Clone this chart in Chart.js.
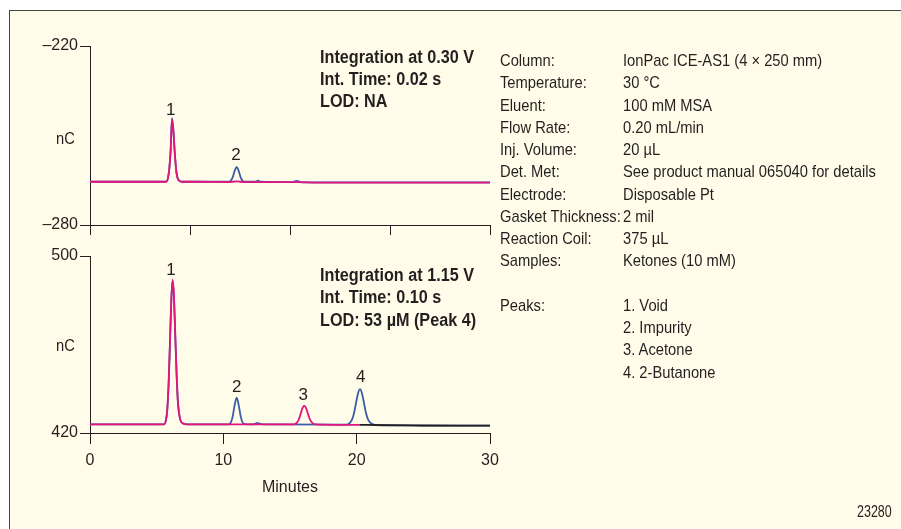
<!DOCTYPE html>
<html><head><meta charset="utf-8">
<script src="https://cdn.jsdelivr.net/npm/chart.js@4.4.1/dist/chart.umd.min.js"></script>
<style>
html,body{margin:0;padding:0;background:#fff;width:901px;height:529px;overflow:hidden;}
#frame{position:absolute;left:9px;top:10px;width:900px;height:530px;border-left:1px solid #444;border-top:1px solid #444;background:#FFFDE9;}
canvas{position:absolute;left:0;top:0;}
.t{position:absolute;font-family:"Liberation Sans",Arial,sans-serif;color:#231F20;white-space:nowrap;font-size:17px;line-height:20px;transform-origin:0 50%;transform:translateY(-50%) scaleX(0.866);}
.b{font-weight:bold;font-size:17.5px;transform:translateY(-50%) scaleX(0.926);}
</style></head>
<body>
<div id="frame"></div>
<canvas id="c1" width="901" height="529"></canvas>
<canvas id="c2" width="901" height="529"></canvas>
<div id="txt"></div>
<script>
// ---------- data (minutes, nC) ----------
// Top chromatogram (Integration at 0.30 V)
const topMagT = [0, 3, 5.6, 5.75, 5.85, 5.95, 6.05, 6.15, 6.25, 6.35, 6.45, 6.55, 6.7, 6.9, 8, 10.4, 11.0, 11.6, 13, 15.5, 17, 22, 30];
const topMagY = [-265.5, -265.5, -265.5, -265.4, -264.2, -261.1, -255.0, -244.6, -248.2, -255.3, -261.0, -264.0, -265.2, -265.5, -265.5, -265.6, -265.4, -265.6, -265.6, -265.6, -265.8, -265.8, -265.8];
const topBlueT = [0, 5.6, 5.75, 5.85, 5.95, 6.05, 6.15, 6.25, 6.35, 6.45, 6.55, 6.7, 6.9, 10.4, 10.55, 10.7, 10.85, 11.0, 11.15, 11.3, 11.45, 11.6, 12.0, 12.4, 12.6, 12.8, 15.2, 15.5, 15.8, 17, 30];
const topBlueY = [-265.5, -265.5, -265.4, -264.2, -261.0, -254.8, -244.2, -248.0, -255.2, -261.0, -264.0, -265.2, -265.5, -265.5, -265.2, -264.05, -261.85, -260.5, -261.85, -264.05, -265.2, -265.5, -265.5, -265.5, -265.1, -265.5, -265.6, -265.2, -265.6, -265.7, -265.7];
const topPeakNames = ['1', '2'];
const topPeakX = [6.05, 10.95];
const topPeakY = [-241.5, -256.6];

// Bottom chromatogram (Integration at 1.15 V)
const botMagT = [0, 3, 5.55, 5.7, 5.8, 5.9, 6.0, 6.1, 6.2, 6.3, 6.4, 6.5, 6.6, 6.75, 6.95, 7.3, 10, 12, 15.3, 15.47, 15.62, 15.77, 15.92, 16.07, 16.22, 16.37, 16.52, 16.67, 16.9, 19, 20.25];
const botMagY = [423.9, 423.9, 423.9, 425.9, 431.1, 442.9, 461.5, 480.8, 489.3, 481.5, 463.5, 446.0, 433.5, 426.5, 424.4, 423.9, 423.9, 423.9, 423.9, 424.4, 425.6, 428.1, 431.0, 432.4, 431.0, 428.2, 425.8, 424.6, 423.9, 423.7, 423.7];
const botBlueT = [0, 5.55, 5.7, 5.8, 5.9, 6.0, 6.1, 6.2, 6.3, 6.4, 6.5, 6.6, 6.75, 6.95, 7.3, 10.4, 10.55, 10.7, 10.85, 11.0, 11.15, 11.3, 11.45, 11.6, 12.2, 12.4, 12.55, 12.7, 13.0, 19.2, 19.45, 19.65, 19.8, 19.95, 20.1, 20.25, 20.4, 20.55, 20.7, 20.85, 21.05, 21.4, 30];
const botBlueY = [423.9, 423.9, 425.8, 430.8, 442.5, 461.0, 480.3, 488.8, 481.0, 463.0, 445.6, 433.3, 426.4, 424.4, 423.9, 423.9, 424.6, 427.4, 432.7, 436.0, 432.7, 427.5, 424.7, 424.0, 423.9, 424.2, 424.6, 424.2, 423.9, 423.8, 424.3, 426.0, 428.9, 433.5, 437.9, 439.8, 437.9, 433.6, 429.0, 426.2, 424.5, 423.7, 423.3];
const botBlackT = [20.25, 22, 25, 30];
const botBlackY = [423.7, 423.5, 423.4, 423.3];
const botPeakNames = ['1', '2', '3', '4'];
const botPeakX = [6.08, 11.0, 16.0, 20.3];
const botPeakY = [493.5, 440.7, 437.0, 445.2];

// axis ticks
const topYTicks = [-280, -220];
const botYTicks = [420, 500];
const botXTicks = [0, 10, 20, 30];
const topXStep = 7.5;

// annotations and conditions
const topNotes = ['Integration at 0.30 V', 'Int. Time: 0.02 s', 'LOD: NA'];
const botNotes = ['Integration at 1.15 V', 'Int. Time: 0.10 s', 'LOD: 53 µM (Peak 4)'];
const condLabels = ['Column:', 'Temperature:', 'Eluent:', 'Flow Rate:', 'Inj. Volume:', 'Det. Met:', 'Electrode:', 'Gasket Thickness:', 'Reaction Coil:', 'Samples:', '', 'Peaks:', '', '', ''];
const condValues = ['IonPac ICE-AS1 (4 × 250 mm)', '30 °C', '100 mM MSA', '0.20 mL/min', '20 µL', 'See product manual 065040 for details', 'Disposable Pt', '2 mil', '375 µL', 'Ketones (10 mM)', '', '1. Void', '2. Impurity', '3. Acetone', '4. 2-Butanone'];
const figureId = '23280';

// ---------- styling ----------
const INK = '#231F20';
const BLUE = '#3B5BA9';
const MAG = '#E3157D';
const FONT = '"Liberation Sans",Arial,sans-serif';
Chart.defaults.font.family = FONT;
Chart.defaults.font.size = 16;
Chart.defaults.color = INK;

function pts(t, y) { return t.map((v, i) => ({x: v, y: y[i]})); }
const minusFmt = v => (v < 0 ? '\u2013' + Math.abs(v) : String(v));

const peakLabelPlugin = {
  id: 'peakLabels',
  afterDatasetsDraw(chart, args, opts) {
    const {ctx} = chart; const xs = chart.scales.x, ys = chart.scales.y;
    ctx.save();
    ctx.font = '17px ' + FONT;
    ctx.fillStyle = INK; ctx.textAlign = 'center'; ctx.textBaseline = 'middle';
    opts.names.forEach((n, i) => ctx.fillText(n, xs.getPixelForValue(opts.xs[i]), ys.getPixelForValue(opts.ys[i])));
    ctx.restore();
  }
};

function ds(data, color, order) {
  return {data, borderColor: color, backgroundColor: color, order, borderWidth: 1.8, pointRadius: 0, fill: false, cubicInterpolationMode: 'monotone'};
}

const axisGrid = {drawOnChartArea: false, drawTicks: true, tickLength: 10, color: INK, lineWidth: 1};
const axisBorder = {display: true, color: INK, width: 1};

new Chart(document.getElementById('c1'), {
  type: 'line',
  data: {datasets: [ds(pts(topMagT, topMagY), MAG, 1), ds(pts(topBlueT, topBlueY), BLUE, 2)]},
  options: {
    responsive: false, animation: false, events: [],
    layout: {padding: {left: 0, top: 46, right: 411, bottom: 292}},
    plugins: {legend: {display: false}, tooltip: {enabled: false},
      peakLabels: {names: topPeakNames, xs: topPeakX, ys: topPeakY}},
    scales: {
      x: {type: 'linear', min: 0, max: 30, ticks: {stepSize: topXStep, callback: () => ''}, grid: axisGrid, border: axisBorder,
          afterFit: s => { s.height = 12; }},
      y: {type: 'linear', min: topYTicks[0], max: topYTicks[1],
          afterBuildTicks: s => { s.ticks = topYTicks.map(v => ({value: v})); },
          ticks: {padding: 2, callback: minusFmt}, grid: axisGrid, border: axisBorder,
          afterFit: s => { s.width = 90; }}
    }
  },
  plugins: [peakLabelPlugin]
});

new Chart(document.getElementById('c2'), {
  type: 'line',
  data: {datasets: [ds(pts(botBlackT, botBlackY), INK, 0), ds(pts(botMagT, botMagY), MAG, 1), ds(pts(botBlueT, botBlueY), BLUE, 2)]},
  options: {
    responsive: false, animation: false, events: [],
    layout: {padding: {left: 0, top: 256, right: 411, bottom: 32}},
    plugins: {legend: {display: false}, tooltip: {enabled: false},
      peakLabels: {names: botPeakNames, xs: botPeakX, ys: botPeakY}},
    scales: {
      x: {type: 'linear', min: botXTicks[0], max: botXTicks[botXTicks.length - 1],
          afterBuildTicks: s => { s.ticks = botXTicks.map(v => ({value: v})); },
          ticks: {padding: 7, maxRotation: 0}, grid: Object.assign({}, axisGrid, {tickLength: 11}), border: axisBorder,
          title: {display: true, text: 'Minutes', padding: {top: 0, bottom: 0}, font: {size: 16}},
          afterFit: s => { s.height = 64; }},
      y: {type: 'linear', min: botYTicks[0], max: botYTicks[1],
          afterBuildTicks: s => { s.ticks = botYTicks.map(v => ({value: v})); },
          ticks: {padding: 2, callback: minusFmt}, grid: axisGrid, border: axisBorder,
          afterFit: s => { s.width = 90; }}
    }
  },
  plugins: [peakLabelPlugin]
});

// ---------- HTML text ----------
const txt = document.getElementById('txt');
function put(text, x, y, cls) {
  const d = document.createElement('div');
  d.className = 't' + (cls ? ' ' + cls : '');
  d.textContent = text; d.style.left = x + 'px'; d.style.top = y + 'px';
  txt.appendChild(d); return d;
}
topNotes.forEach((s, i) => put(s, 320, 57 + i * 22.2, 'b'));
botNotes.forEach((s, i) => put(s, 320, 274.5 + i * 22.8, 'b'));
put('nC', 56, 139.2);
put('nC', 56, 345.8);
condLabels.forEach((s, i) => { if (s) put(s, 500, 61.2 + i * 22.25); });
condValues.forEach((s, i) => { if (s) put(s, 623, 61.2 + i * 22.25); });
const fid = put(figureId, 0, 512);
fid.style.fontSize = '16px';
fid.style.transform = 'translateY(-50%) scaleX(0.78)';
fid.style.left = (892 - fid.offsetWidth * 0.78) + 'px';
</script>
</body></html>
